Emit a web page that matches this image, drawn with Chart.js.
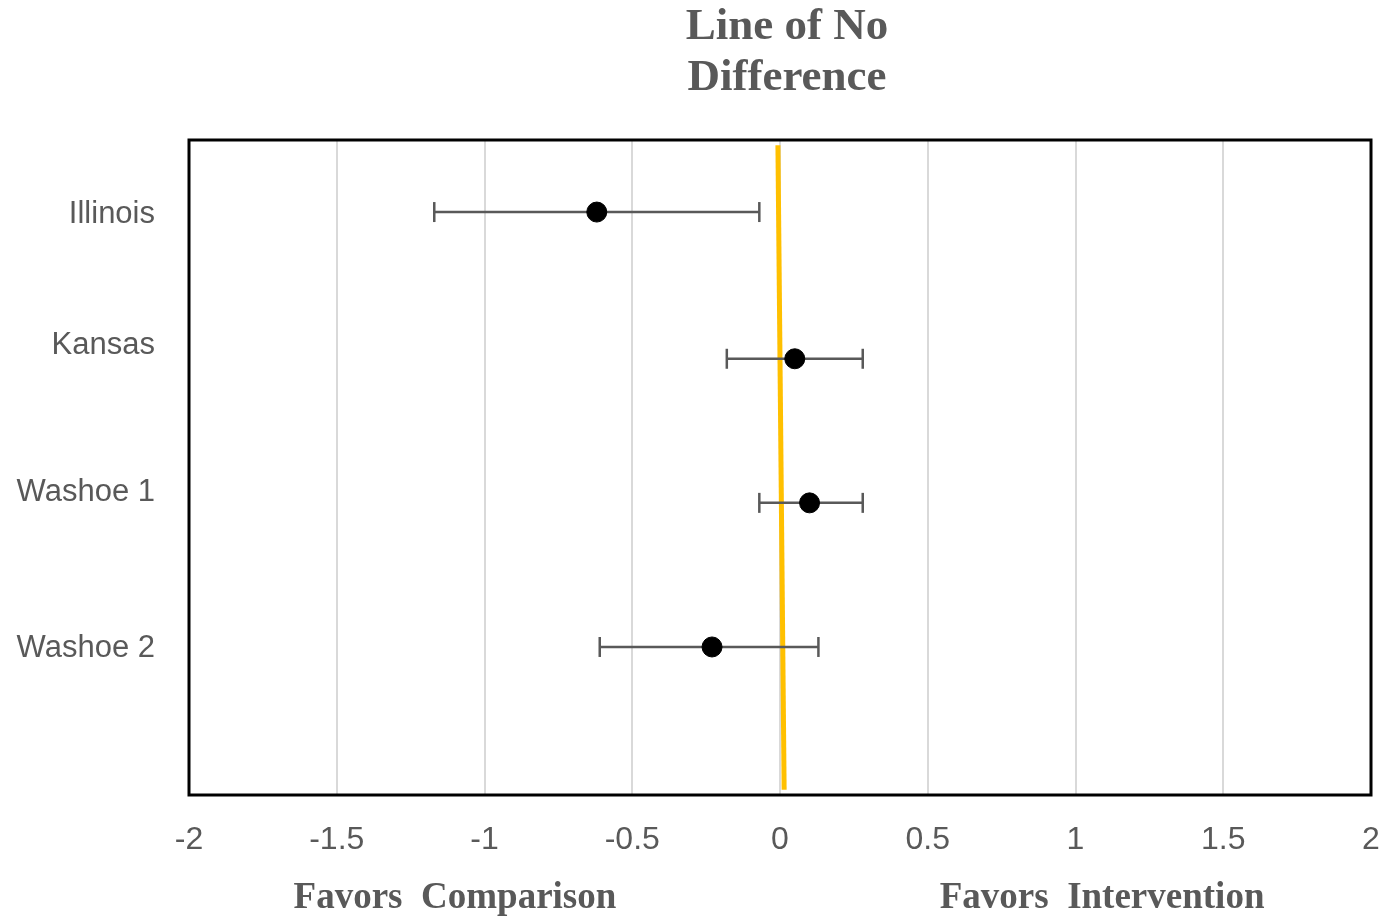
<!DOCTYPE html>
<html>
<head>
<meta charset="utf-8">
<script src="https://cdn.jsdelivr.net/npm/chart.js@4"></script>
<style>
  html, body { margin: 0; padding: 0; background: #fff; }
  #wrap { width: 1388px; height: 921px; }
</style>
</head>
<body>
<div id="wrap"><canvas id="forestChart"></canvas></div>
<script>
// Forest plot data
const studies = ["Illinois", "Kansas", "Washoe 1", "Washoe 2"];
const estimates = [-0.62, 0.05, 0.10, -0.23];
const lowerCI = [-1.17, -0.18, -0.07, -0.61];
const upperCI = [-0.07, 0.28, 0.28, 0.13];
const rowY = [4.45, 3.33, 2.23, 1.13];      // y position of each study's marks
const labelY = [4.43, 3.43, 2.31, 1.12];    // y position of each study's label
const xTicks = [-2, -1.5, -1, -0.5, 0, 0.5, 1, 1.5, 2];
const noDiffLine = [{ x: -0.007, y: 4.96 }, { x: 0.014, y: 0.04 }];

const grey = "#595959";

// Whisker datasets, one per study
const whiskerSets = studies.map((name, i) => ({
    type: "line",
    label: name + " CI",
    data: [{ x: lowerCI[i], y: rowY[i] }, { x: upperCI[i], y: rowY[i] }],
    borderColor: grey,
    borderWidth: 2.5,
    pointStyle: "line",
    rotation: 90,
    pointRadius: 10,
    pointBorderColor: grey,
    pointBorderWidth: 2.5,
    pointHoverRadius: 10,
    fill: false,
    order: 2
}));

// Box around plot area + text labels
const decorPlugin = {
    id: "decor",
    afterDraw(chart) {
        const { ctx, chartArea, scales } = chart;
        ctx.save();
        ctx.strokeStyle = "#000";
        ctx.lineWidth = 3;
        ctx.strokeRect(chartArea.left, chartArea.top, chartArea.right - chartArea.left, chartArea.bottom - chartArea.top);

        ctx.fillStyle = grey;
        ctx.textAlign = "center";
        ctx.textBaseline = "middle";
        ctx.font = "bold 45px 'Liberation Serif', serif";
        const cx = scales.x.getPixelForValue(0) + 7;
        ctx.fillText("Line of No", cx, 27);
        ctx.fillText("Difference", cx, 78);

        ctx.font = "bold 37px 'Liberation Serif', serif";
        ctx.fillText("Favors  Comparison", scales.x.getPixelForValue(-1.1), 898);
        ctx.fillText("Favors  Intervention", scales.x.getPixelForValue(1.09), 898);
        ctx.restore();
    }
};

const ctx = document.getElementById("forestChart").getContext("2d");

new Chart(ctx, {
    type: "scatter",
    data: {
        datasets: [
            {
                label: "Estimate",
                data: studies.map((s, i) => ({ x: estimates[i], y: rowY[i] })),
                backgroundColor: "#000",
                borderColor: "#000",
                pointRadius: 10,
                pointHoverRadius: 10,
                order: 0
            },
            ...whiskerSets,
            {
                type: "line",
                label: "Line of No Difference",
                data: noDiffLine,
                borderColor: "#FFC000",
                borderWidth: 5,
                pointRadius: 0,
                fill: false,
                order: 3
            }
        ]
    },
    options: {
        responsive: true,
        maintainAspectRatio: false,
        animation: false,
        layout: { padding: { top: 140, right: 17, left: 0, bottom: 0 } },
        plugins: {
            legend: { display: false },
            tooltip: { enabled: false },
            title: { display: false }
        },
        scales: {
            x: {
                type: "linear",
                min: -2,
                max: 2,
                afterBuildTicks: (scale) => { scale.ticks = xTicks.map(v => ({ value: v })); },
                afterFit: (scale) => {
                    scale.height = 126;
                    scale.paddingLeft = 0;
                    scale.paddingRight = 0;
                },
                grid: { color: "#d9d9d9", lineWidth: 2, drawTicks: false },
                border: { display: false },
                ticks: {
                    padding: 26,
                    color: grey,
                    font: { family: "'Liberation Sans', sans-serif", size: 32 },
                    callback: (v) => String(v)
                }
            },
            y: {
                type: "linear",
                min: 0,
                max: 5,
                afterBuildTicks: (scale) => { scale.ticks = labelY.map(v => ({ value: v })); },
                afterFit: (scale) => { scale.width = 189; },
                grid: { display: false, drawTicks: false },
                border: { display: false },
                ticks: {
                    padding: 34,
                    color: grey,
                    font: { family: "'Liberation Sans', sans-serif", size: 31 },
                    callback: (v) => {
                        const i = labelY.indexOf(v);
                        return i >= 0 ? studies[i] : "";
                    }
                }
            }
        }
    },
    plugins: [decorPlugin]
});
</script>
</body>
</html>
